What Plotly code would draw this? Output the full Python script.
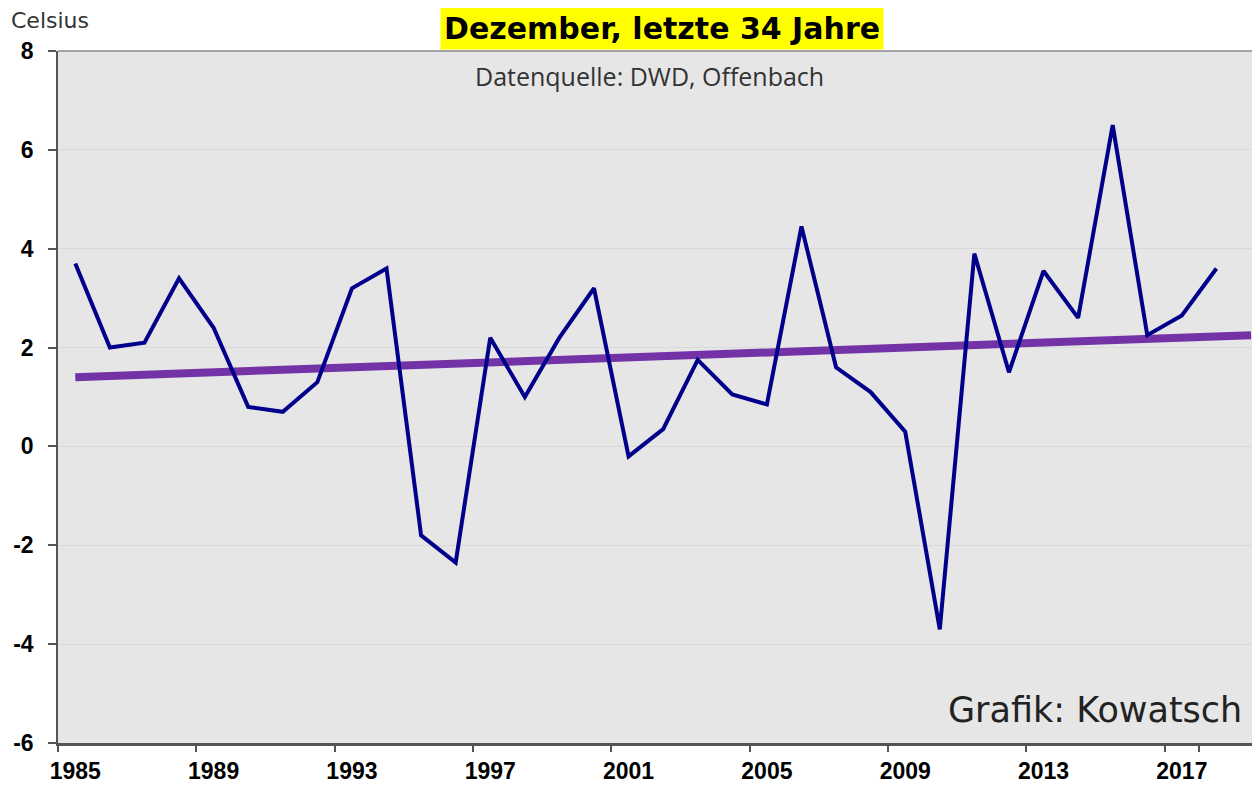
import plotly.graph_objects as go

# Dezember-Mitteltemperatur Deutschland (DWD), 1985-2018
YEARS = list(range(1985, 2019))
TEMPS = [3.7, 2.0, 2.1, 3.4, 2.4, 0.8, 0.7, 1.3, 3.2, 3.6,
         -1.8, -2.35, 2.2, 1.0, 2.2, 3.2, -0.2, 0.35, 1.75, 1.05,
         0.85, 4.45, 1.6, 1.1, 0.3, -3.7, 3.9, 1.5, 3.55, 2.6,
         6.5, 2.25, 2.65, 3.6]

# lineare Trendlinie (Excel-Trend, bis 2019 verlaengert)
TREND_YEARS = [1985, 2019]
TREND_VALUES = [1.40, 2.25]

X_TICK_YEARS = [1985, 1989, 1993, 1997, 2001, 2005, 2009, 2013, 2017]
Y_TICKS = [-6, -4, -2, 0, 2, 4, 6, 8]
Y_TICK_LABELS = ["-6", "-4", "-2", "0", "2", "4", "6", "8"]

CATEGORIES = YEARS + [2019]

fig = go.Figure()

fig.add_trace(go.Scatter(
    x=TREND_YEARS, y=TREND_VALUES,
    mode="lines",
    line=dict(color="#7332A6", width=8),
    hoverinfo="skip",
))

fig.add_trace(go.Scatter(
    x=YEARS, y=TEMPS,
    mode="lines",
    line=dict(color="#00008B", width=4),
    name="Dezember",
))

# die Seite hat 8px Rand -> Figur entsprechend kleiner
fig.update_layout(
    width=1252, height=779,
    margin=dict(l=50, r=0, t=43, b=44),
    paper_bgcolor="white",
    plot_bgcolor="#e6e6e6",
    showlegend=False,
    font=dict(family="Liberation Sans, Arial", color="black"),
)

fig.update_xaxes(
    type="category",
    categoryorder="array", categoryarray=CATEGORIES,
    range=[-0.5, 34.26],
    tickmode="array", tickvals=X_TICK_YEARS,
    ticktext=[str(y) for y in X_TICK_YEARS],
    tickson="boundaries", tickangle=0,
    ticks="outside", ticklen=6, tickwidth=1.5, tickcolor="#555",
    ticklabelstandoff=6,
    showgrid=False,
    showline=True, linecolor="#555", linewidth=2.5,
    tickfont=dict(size=23, weight="bold"),
    zeroline=False, automargin=False,
)

fig.update_yaxes(
    range=[-6, 8],
    tickmode="array", tickvals=Y_TICKS, ticktext=Y_TICK_LABELS,
    ticks="outside", ticklen=8, tickwidth=1.5, tickcolor="#555",
    ticklabelstandoff=10,
    showgrid=True, gridcolor="#d9d9d9", gridwidth=1,
    showline=True, linecolor="#555", linewidth=1.5,
    tickfont=dict(size=23, weight="bold"),
    zeroline=False, automargin=False,
)

# obere Rahmenlinie
fig.add_shape(type="line", xref="paper", yref="paper",
              x0=0, x1=1, y0=1, y1=1,
              line=dict(color="#8a8a8a", width=1.5))

fig.add_annotation(
    text="<b>Dezember, letzte 34 Jahre</b>",
    xref="paper", yref="paper", x=0.5025, y=1.0318,
    xanchor="center", yanchor="middle", showarrow=False,
    font=dict(family="DejaVu Sans", size=30, color="black"),
    bgcolor="#ffff00", borderpad=3,
)
fig.add_annotation(
    text="Datenquelle: DWD, Offenbach",
    xref="paper", yref="paper", x=0.4925, y=0.9639,
    xanchor="center", yanchor="middle", showarrow=False,
    font=dict(family="Open Sans", size=25, color="#333"),
)
fig.add_annotation(
    text="Celsius",
    xref="paper", yref="paper", x=-0.0408, y=1.0434,
    xanchor="left", yanchor="middle", showarrow=False,
    font=dict(family="DejaVu Sans", size=22, color="#333"),
)
fig.add_annotation(
    text="Grafik: Kowatsch",
    xref="paper", yref="paper", x=0.9867, y=0.0477,
    xanchor="right", yanchor="middle", showarrow=False,
    font=dict(family="DejaVu Sans", size=35, color="#222"),
)

fig.write_html("out.html")
